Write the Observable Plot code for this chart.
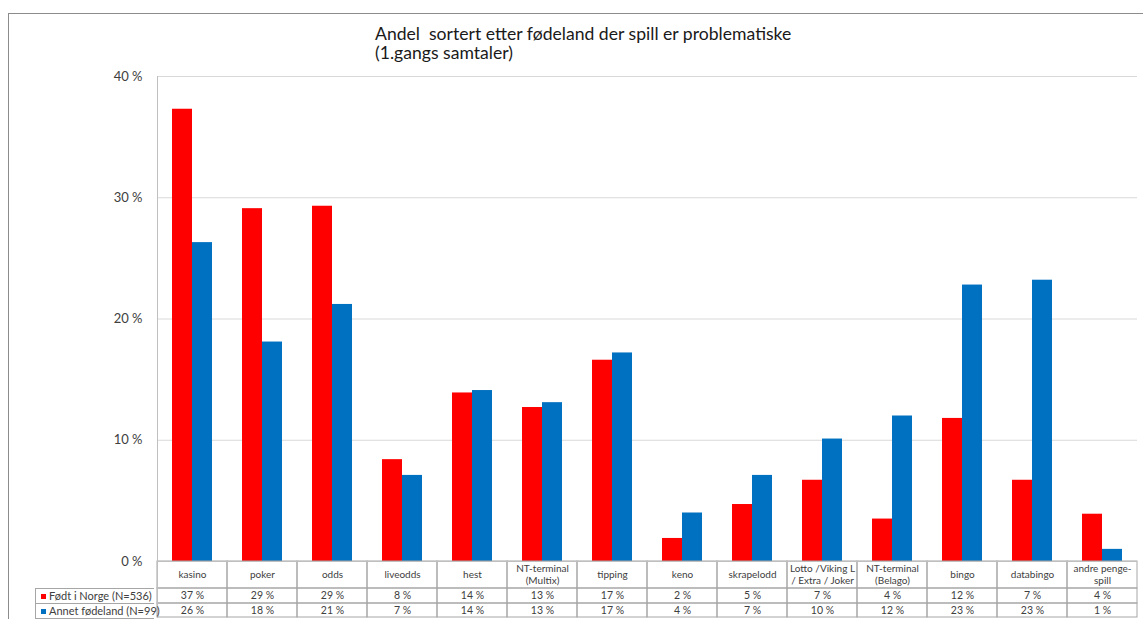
<!DOCTYPE html>
<html>
<head>
<meta charset="utf-8">
<script src="https://cdn.jsdelivr.net/npm/d3@7"></script>
<script src="https://cdn.jsdelivr.net/npm/@observablehq/plot@0.6"></script>
<style>
  html, body { margin: 0; padding: 0; background: #fff; }
  body { width: 1143px; height: 619px; position: relative; overflow: hidden; font-family: Lato, "Open Sans", sans-serif; }
  #outer { position: absolute; left: 8px; top: 13px; right: -2px; bottom: -2px; border-left: 1px solid #8c8c8c; border-top: 1px solid #8c8c8c; pointer-events: none; }
  #title { position: absolute; left: 375px; top: 24px; font-size: 17.6px; line-height: 19px; color: #1a1a1a; white-space: pre; }
  #chart { position: absolute; left: 0; top: 0; }
  #legend { position: absolute; left: 35px; top: 588px; width: 119px; font-size: 11px; color: #404040; }
  #legend .row { height: 14px; line-height: 14px; border-left: 1px solid #a6a6a6; border-top: 1px solid #a6a6a6; box-sizing: content-box; white-space: nowrap; padding-left: 5px; }
  #legend .row:last-child { border-bottom: 1px solid #a6a6a6; }
  #legend .sw { display: inline-block; width: 5px; height: 5px; margin-right: 3px; vertical-align: 1px; }
</style>
</head>
<body>
<div id="chart"></div>
<div id="outer"></div>
<div id="title">Andel  sortert etter fødeland der spill er problematiske
(1.gangs samtaler)</div>
<div id="legend"></div>
<script>
const categories = ["kasino", "poker", "odds", "liveodds", "hest", "NT-terminal\n(Multix)", "tipping", "keno", "skrapelodd", "Lotto /Viking L\n/ Extra / Joker", "NT-terminal\n(Belago)", "bingo", "databingo", "andre penge-\nspill"];
const series = ["Født i Norge (N=536)", "Annet fødeland (N=99)"];
const seriesColors = ["#ff0000", "#0070c0"];
const norge = [37.3, 29.1, 29.3, 8.4, 13.9, 12.7, 16.6, 1.9, 4.7, 6.7, 3.5, 11.8, 6.7, 3.9];
const annet = [26.3, 18.1, 21.2, 7.1, 14.1, 13.1, 17.2, 4.0, 7.1, 10.1, 12.0, 22.8, 23.2, 1.0];
const norgeLabels = ["37 %", "29 %", "29 %", "8 %", "14 %", "13 %", "17 %", "2 %", "5 %", "7 %", "4 %", "12 %", "7 %", "4 %"];
const annetLabels = ["26 %", "18 %", "21 %", "7 %", "14 %", "13 %", "17 %", "4 %", "7 %", "10 %", "12 %", "23 %", "23 %", "1 %"];
const yTicks = [0, 10, 20, 30, 40];

const bars = categories.flatMap((c, i) => [
  {cat: c, series: series[0], value: norge[i]},
  {cat: c, series: series[1], value: annet[i]}
]);
const table = categories.map((c, i) => ({cat: c, n: norgeLabels[i], a: annetLabels[i]}));

const lineColor = "#a6a6a6";
const textColor = "#404040";

const plot = Plot.plot({
  width: 1143,
  height: 619,
  marginTop: 76,
  marginBottom: 58,
  marginLeft: 154,
  marginRight: 3,
  style: {background: "none", fontFamily: "Lato, 'Open Sans', sans-serif"},
  fx: {domain: categories, padding: 0, axis: null},
  x: {domain: series, paddingInner: 0, paddingOuter: 0.72, axis: null},
  y: {domain: [0, 40], axis: null, label: null},
  color: {domain: series, range: seriesColors},
  marks: [
    Plot.gridY(yTicks, {stroke: "#d9d9d9", strokeOpacity: 1}),
    Plot.barY(bars, {fx: "cat", x: "series", y: "value", fill: "series"}),
    // data table cells
    Plot.barY(table, {fx: "cat", y1: () => 0, y2: () => 0, insetTop: 0, insetBottom: -27, fill: "none", stroke: lineColor}),
    Plot.barY(table, {fx: "cat", y1: () => 0, y2: () => 0, insetTop: 27, insetBottom: -42, fill: "none", stroke: lineColor}),
    Plot.barY(table, {fx: "cat", y1: () => 0, y2: () => 0, insetTop: 42, insetBottom: -56, fill: "none", stroke: lineColor}),
    Plot.ruleY([0], {stroke: "#bfbfbf"}),
    Plot.frame({anchor: "left", facetAnchor: "left", stroke: "#bfbfbf", insetBottom: -56}),
    Plot.axisY(yTicks, {tickSize: 0, tickPadding: 15, tickFormat: d => `${d} %`, fontSize: 13, color: textColor, label: null}),
    Plot.text(table, {fx: "cat", text: "cat", frameAnchor: "bottom", dy: 13, lineAnchor: "middle", lineHeight: 1.2, fontSize: 10, fill: textColor}),
    Plot.text(table, {fx: "cat", text: "n", frameAnchor: "bottom", dy: 34, lineAnchor: "middle", fontSize: 10.5, fill: textColor}),
    Plot.text(table, {fx: "cat", text: "a", frameAnchor: "bottom", dy: 49.5, lineAnchor: "middle", fontSize: 10.5, fill: textColor})
  ]
});
document.getElementById("chart").appendChild(plot);

const legend = document.getElementById("legend");
series.forEach((s, i) => {
  const row = document.createElement("div");
  row.className = "row";
  const sw = document.createElement("span");
  sw.className = "sw";
  sw.style.background = seriesColors[i];
  row.appendChild(sw);
  row.appendChild(document.createTextNode(s));
  legend.appendChild(row);
});
</script>
</body>
</html>
